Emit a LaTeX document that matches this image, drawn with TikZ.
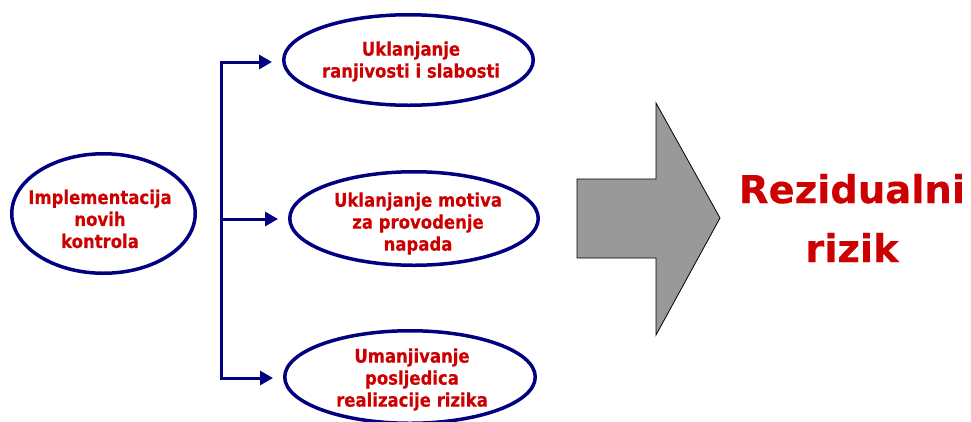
\documentclass[tikz,border=0pt]{standalone}
\usepackage{fontspec}
\setmainfont{DejaVu Sans}
\newfontfamily\lblfont[FakeStretch=0.88,BoldFeatures={FakeBold=0.3}]{DejaVu Sans}
\newfontfamily\bigfont[BoldFeatures={FakeBold=0.3}]{DejaVu Sans}
\usetikzlibrary{shapes.geometric,arrows.meta}
\definecolor{navyb}{HTML}{000080}
\definecolor{redt}{HTML}{CC0000}
\definecolor{grayf}{HTML}{999999}
\begin{document}
\begin{tikzpicture}[x=1pt,y=-1pt,
  oval/.style={ellipse,draw=navyb,line width=3.5pt,inner sep=0pt},
  lbl/.style={text=redt,font=\lblfont\fontsize{18.75}{22}\selectfont\bfseries,align=center,inner sep=0pt},
  big/.style={text=redt,font=\bigfont\fontsize{38.5}{59}\selectfont\bfseries,align=center,inner sep=0pt},
  conn/.style={draw=navyb,line width=3pt,line join=miter},
  tip/.style={-{Triangle[length=13pt,width=14pt]},shorten >=10pt}]
\useasboundingbox (0,0) rectangle (971,421);
% ellipses
\node[oval,minimum width=183.5pt,minimum height=119.5pt] (e0) at (103.5,213.5) {};
\node[oval,minimum width=249.5pt,minimum height=90.5pt] (e1) at (408.5,60) {};
\node[oval,minimum width=248.5pt,minimum height=93.5pt] (e2) at (414,218.5) {};
\node[oval,minimum width=250.5pt,minimum height=92.5pt] (e3) at (410,377) {};
% texts
\node[lbl] (t0) at (100,219) {Implementacija\\novih\\kontrola};
\node[lbl] (t1) at (411,61.5) {Uklanjanje\\ranjivosti i slabosti};
\node[lbl] (t2) at (418,223.5) {Uklanjanje motiva\\za provodenje\\napada};
\node[lbl] (t3) at (412,379.5) {Umanjivanje\\posljedica\\realizacije rizika};
% bracket
\coordinate (jt) at (221,62);
\coordinate (jm) at (221,219);
\coordinate (jb) at (221,378);
\draw[conn,tip] (jm) -- (jt) -- (jt -| e1.west);
\draw[conn,tip] (jm) -- (jm -| e2.west);
\draw[conn,tip] (jm) -- (jb) -- (jb -| e3.west);
% big arrow
\draw[fill=grayf,draw=black,line width=0.8pt]
  (577,179) -- (656,179) -- (656,103) -- (720,218) -- (656,335) -- (656,258) -- (577,258) -- cycle;
% result
\node[big] (res) at (852,218) {Rezidualni\\rizik};
\end{tikzpicture}
\end{document}
